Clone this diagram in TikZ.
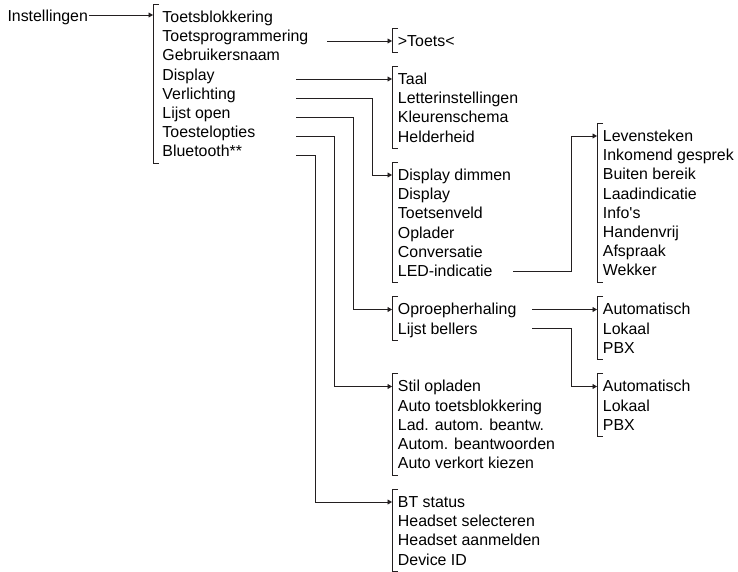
\documentclass[tikz,border=0pt]{standalone}
\usepackage{fontspec}
\setmainfont{Liberation Sans}
\usepackage{tikz}
\usetikzlibrary{arrows.meta,calc}
\definecolor{wire}{RGB}{35,31,32}
\newcommand{\menufont}{\fontsize{15.9}{19.2}\selectfont}
\newcommand{\menubrace}[1]{\draw[wire] ($(#1.north west)+(6,-4.5)$) -- ($(#1.north west)+(0,-4.5)$) -- (#1.south west) -- ++(6,0);}

\begin{document}
\begin{tikzpicture}[x=1pt, y=-1pt, line width=0.9pt,
  menu/.style={anchor=north west, inner xsep=5.5pt, inner ysep=0pt, align=left, font=\menufont},
  link/.style={wire, -{Triangle[length=4.5pt,width=5pt]}}]
  \useasboundingbox (0,0) rectangle (738,572);
  % entry points of the menus
  \coordinate (g1in) at (153,15);
  \coordinate (g2in) at (392,41);
  \coordinate (g3in) at (392,79);
  \coordinate (g4in) at (392,175);
  \coordinate (g5in) at (392,309.5);
  \coordinate (g6in) at (392,386.5);
  \coordinate (g7in) at (392,502);
  \coordinate (g8in) at (597,136);
  \coordinate (g9in) at (597,309.5);
  \coordinate (g10in) at (597,386.5);
  % start points of the links
  \coordinate (tprog) at (327,41);
  \coordinate (disp) at (296,79);
  \coordinate (verl) at (296,98);
  \coordinate (lijst) at (296,117.3);
  \coordinate (toest) at (296,136);
  \coordinate (blue) at (296,155.3);
  \coordinate (led) at (513,271);
  \coordinate (oproep) at (532,309.5);
  \coordinate (bellers) at (532,328.7);

  \node[font=\menufont, anchor=base west, inner sep=0pt, outer sep=1pt] (instel) at (6.5,21.5) {Instellingen};
  \node[menu, inner xsep=9pt] (g1) at ([yshift=6.44pt]g1in) {\strut Toetsblokkering\\Toetsprogrammering\\Gebruikersnaam\\Display\\Verlichting\\Lijst open\\Toestelopties\\Bluetooth**\strut};
  \node[menu] (g2) at ([yshift=8.44pt]g2in) {\strut>Toets<\strut};
  \node[menu] (g3) at ([yshift=8.44pt]g3in) {\strut Taal\\Letterinstellingen\\Kleurenschema\\Helderheid\strut};
  \node[menu] (g4) at ([yshift=8.44pt]g4in) {\strut Display dimmen\\Display\\Toetsenveld\\Oplader\\Conversatie\\LED-indicatie\strut};
  \node[menu] (g5) at ([yshift=8.44pt]g5in) {\strut Oproepherhaling\\Lijst bellers\strut};
  \node[menu] (g6) at ([yshift=8.44pt]g6in) {\strut Stil opladen\\Auto toetsblokkering\\Lad. autom. beantw.\\Autom. beantwoorden\\Auto verkort kiezen\strut};
  \node[menu] (g7) at ([yshift=8.44pt]g7in) {\strut BT status\\Headset selecteren\\Headset aanmelden\\Device ID\strut};
  \node[menu] (g8) at ([yshift=8.44pt]g8in) {\strut Levensteken\\Inkomend gesprek\\Buiten bereik\\Laadindicatie\\Info\textquotesingle s\\Handenvrij\\Afspraak\\Wekker\strut};
  \node[menu] (g9) at ([yshift=8.44pt]g9in) {\strut Automatisch\\Lokaal\\PBX\strut};
  \node[menu] (g10) at ([yshift=8.44pt]g10in) {\strut Automatisch\\Lokaal\\PBX\strut};

  \foreach \g in {g1,g2,g3,g4,g5,g6,g7,g8,g9,g10} {\menubrace{\g}}

  \draw[link] (instel.east |- g1in) -- (g1in);
  \draw[link] (tprog) -- (g2in);
  \draw[link] (disp) -- (g3in);
  \draw[link] (verl) -- ++(76,0) |- (g4in);
  \draw[link] (lijst) -- ++(57,0) |- (g5in);
  \draw[link] (toest) -- ++(38,0) |- (g6in);
  \draw[link] (blue) -- ++(19,0) |- (g7in);
  \draw[link] (led) -- ++(58,0) |- (g8in);
  \draw[link] (oproep) -- (g9in);
  \draw[link] (bellers) -- ++(39,0) |- (g10in);
\end{tikzpicture}
\end{document}
